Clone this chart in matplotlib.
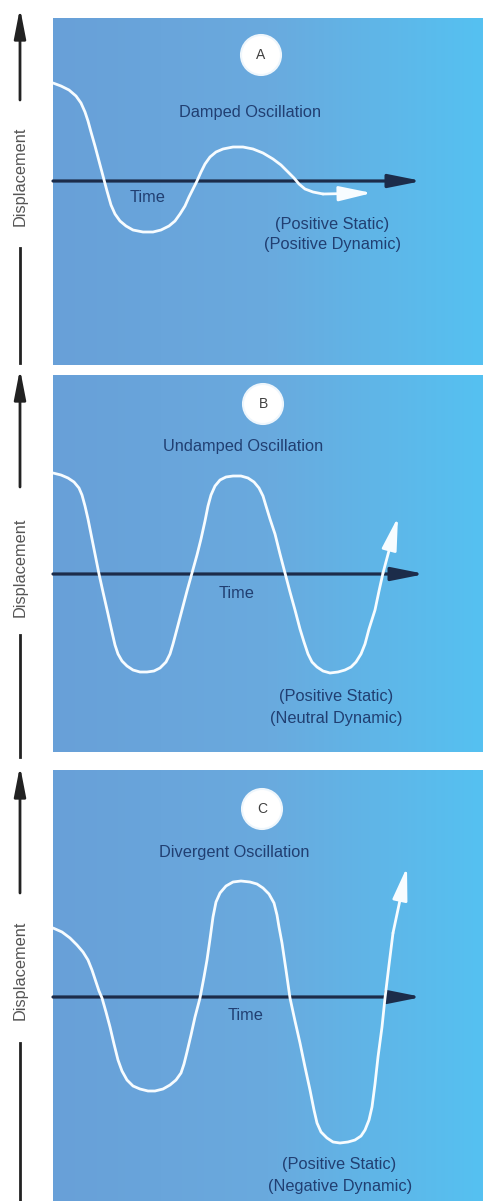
import numpy as np
import matplotlib
matplotlib.use('Agg')
import matplotlib.pyplot as plt
from matplotlib.colors import LinearSegmentedColormap
from matplotlib.patches import Circle

plt.rcParams['font.family'] = ['Liberation Sans', 'DejaVu Sans']

# ---------------- data ----------------
panel_letters = ['A', 'B', 'C']
panel_titles = ['Damped Oscillation', 'Undamped Oscillation', 'Divergent Oscillation']
static_labels = ['(Positive Static)', '(Positive Static)', '(Positive Static)']
dynamic_labels = ['(Positive Dynamic)', '(Neutral Dynamic)', '(Negative Dynamic)']
x_label = 'Time'
y_label = 'Displacement'

# curves: time vs displacement (last point = arrow tip)
damped_t = [0, 8, 16, 23, 28, 32, 35, 38, 42, 46, 50, 54, 58, 62, 67, 73, 80, 90, 100, 108,
            116, 122, 127, 132, 136, 140, 144, 148, 152, 157, 163, 170, 180, 190, 200, 210,
            220, 228, 235, 241, 246, 252, 260, 270, 287, 319]
damped_d = [98, 95, 91, 85, 78, 69, 60, 49, 35, 20, 5, -10, -24, -33, -40, -45, -49, -51, -51,
            -49, -45, -40, -33, -25, -16, -8, 0, 9, 17, 24, 29, 32, 34, 34, 32, 28, 22, 16, 9,
            3, -3, -8, -11, -13, -14, -12]

undamped_t = [0, 8, 15, 21, 26, 29, 32, 35, 39, 43, 46, 50, 55, 59, 62, 65, 69, 74, 80, 87,
              94, 101, 107, 113, 117, 120, 124, 129, 134, 139, 144, 148, 152, 155, 158, 162,
              167, 173, 180, 188, 195, 201, 206, 210, 213, 217, 222, 227, 232, 237, 242, 247,
              251, 255, 259, 264, 270, 277, 285, 292, 298, 303, 308, 312, 316, 322, 326, 330,
              337, 345]
undamped_d = [101, 99, 96, 92, 86, 79, 68, 55, 35, 15, 0, -18, -40, -58, -71, -80, -87, -92,
              -96, -98, -98, -97, -94, -88, -80, -70, -55, -36, -17, 1, 19, 35, 53, 68, 79, 88,
              94, 97, 98, 98, 96, 92, 86, 78, 68, 55, 40, 20, 1, -18, -36, -55, -68, -80, -88,
              -93, -97, -99, -98, -96, -93, -88, -80, -70, -55, -36, -17, 1, 27, 57]

divergent_t = [0, 9, 17, 24, 30, 35, 39, 42, 46, 49, 53, 57, 61, 65, 69, 74, 80, 87, 95, 102,
               110, 117, 123, 128, 131, 134, 138, 142, 147, 151, 154, 157, 160, 163, 167, 173,
               180, 188, 197, 204, 210, 216, 221, 224, 226, 229, 233, 237, 242, 247, 252, 257,
               261, 264, 268, 274, 280, 287, 295, 302, 308, 312, 316, 319, 322, 325, 329, 332,
               336, 340, 345, 354]
divergent_d = [69, 65, 59, 52, 45, 37, 27, 18, 6, -1, -15, -30, -47, -63, -74, -83, -89, -92,
               -94, -94, -92, -88, -83, -76, -67, -55, -38, -20, -1, 20, 37, 58, 80, 95, 104,
               111, 115, 116, 115, 113, 109, 103, 94, 82, 70, 54, 27, -1, -24, -46, -70, -93,
               -113, -126, -135, -141, -145, -146, -145, -143, -139, -133, -123, -110, -87, -60,
               -30, -1, 32, 64, 104, 130]

series_t = [damped_t, undamped_t, divergent_t]
series_d = [damped_d, undamped_d, divergent_d]

# ---------------- layout (pixels) ----------------
W, H = 483, 1201
fig = plt.figure(figsize=(W / 100, H / 100), dpi=100)
fig.patch.set_facecolor('white')

panel_left, panel_right = 53, 483
panels = [dict(top=18, bottom=365, axis=181),
          dict(top=375, bottom=752, axis=574),
          dict(top=770, bottom=1201, axis=997)]

text_pos = [
    dict(circle=(208, 126), title=(197, 68), time=(95, -17), stat=(279, -44), dyn=(279, -64)),
    dict(circle=(210, 170), title=(190, 127), time=(184, -20), stat=(283, -123), dyn=(283, -144)),
    dict(circle=(209, 188), title=(181, 145), time=(193, -19), stat=(286, -167), dyn=(287, -189)),
]
axis_tips = [369, 372, 369]

cmap = LinearSegmentedColormap.from_list('bg', ['#68a0d8', '#6aaade', '#55c1f1'])
navy = '#213f72'
axis_col = '#1c2c4a'
curve_col = '#f7fcff'

for i, p in enumerate(panels):
    w = panel_right - panel_left
    h = p['bottom'] - p['top']
    ax = fig.add_axes([panel_left / W, 1 - p['bottom'] / H, w / W, h / H])
    ymin, ymax = -(p['bottom'] - p['axis']), p['axis'] - p['top']
    ax.set_xlim(0, w)
    ax.set_ylim(ymin, ymax)
    ax.axis('off')
    grad = np.linspace(0, 1, 256).reshape(1, -1)
    ax.imshow(grad, extent=(0, w, ymin, ymax), aspect='auto', cmap=cmap, zorder=0,
              interpolation='bilinear')

    # time axis
    ax.annotate('', xy=(axis_tips[i], 0), xytext=(0, 0),
                arrowprops=dict(arrowstyle='-|>,head_length=2.0,head_width=0.4',
                                color=axis_col, lw=2.3, shrinkA=0, shrinkB=0),
                zorder=2)

    # oscillation curve
    t = series_t[i]
    d = series_d[i]
    ax.plot(t[:-2], d[:-2], color=curve_col, lw=2.0, solid_joinstyle='round',
            solid_capstyle='round', zorder=3)
    ax.annotate('', xy=(t[-1], d[-1]), xytext=(t[-3], d[-3]),
                arrowprops=dict(arrowstyle='-|>,head_length=2.0,head_width=0.45',
                                color=curve_col, lw=2.0, shrinkA=0, shrinkB=0),
                zorder=3)

    tp = text_pos[i]
    ax.add_patch(Circle(tp['circle'], 20, facecolor='white', edgecolor='#eef6fc',
                        lw=1.5, zorder=4))
    ax.text(*tp['circle'], panel_letters[i], ha='center', va='center', fontsize=10,
            color='#404040', zorder=5)
    ax.text(*tp['title'], panel_titles[i], ha='center', va='center', fontsize=11.8,
            color=navy, zorder=5)
    ax.text(*tp['time'], x_label, ha='center', va='center', fontsize=11.8,
            color=navy, zorder=5)
    ax.text(*tp['stat'], static_labels[i], ha='center', va='center', fontsize=11.8,
            color=navy, zorder=5)
    ax.text(*tp['dyn'], dynamic_labels[i], ha='center', va='center', fontsize=11.8,
            color=navy, zorder=5)

# left-side displacement arrows
ov = fig.add_axes([0, 0, 1, 1])
ov.set_xlim(0, W)
ov.set_ylim(H, 0)
ov.axis('off')
ov.patch.set_alpha(0)
left_arrows = [dict(tip=8, shaft=100, text=176, low=(248, 363)),
               dict(tip=369, shaft=487, text=567, low=(635, 757)),
               dict(tip=766, shaft=893, text=970, low=(1043, 1201))]
for la in left_arrows:
    ov.annotate('', xy=(20, la['tip']), xytext=(20, la['shaft']),
                arrowprops=dict(arrowstyle='-|>,head_length=1.8,head_width=0.35',
                                color='#222222', lw=2.0, shrinkA=0, shrinkB=0))
    ov.plot([20, 20], list(la['low']), color='#222222', lw=2.0)
    ov.text(20, la['text'], y_label, rotation=90, ha='center', va='center',
            fontsize=11.8, color='#555555')

fig.savefig('out.png', dpi=100, facecolor='white')
